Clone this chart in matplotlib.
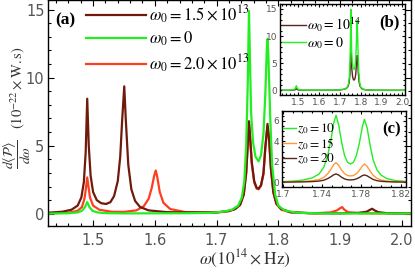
import matplotlib
matplotlib.use("Agg")
import matplotlib.pyplot as plt
from matplotlib.ticker import MultipleLocator

plt.rcParams["mathtext.fontset"] = "stix"

# --- main panel (a): omega_0 = 1.5e13 (brown) ---
w_brown = [1.427, 1.45, 1.465, 1.475, 1.481, 1.485, 1.488, 1.4905, 1.493, 1.496, 1.50, 1.506,
           1.513, 1.521, 1.528, 1.534, 1.540, 1.544, 1.547, 1.5505, 1.553, 1.557, 1.562, 1.568,
           1.576, 1.59, 1.62, 1.66, 1.70, 1.72, 1.73, 1.738, 1.744, 1.748, 1.751, 1.7525, 1.754,
           1.757, 1.761, 1.765, 1.768, 1.772, 1.776, 1.779, 1.7825, 1.785, 1.788, 1.792, 1.797,
           1.805, 1.82, 1.85, 1.90, 1.93, 1.943, 1.948, 1.952, 1.956, 1.962, 1.975, 2.015]
p_brown = [0.08, 0.15, 0.3, 0.6, 1.2, 2.3, 4.5, 8.45, 5.0, 2.8, 1.6, 1.0,
           0.78, 0.72, 0.85, 1.3, 2.4, 4.2, 6.8, 9.36, 6.9, 3.6, 1.8, 0.95,
           0.5, 0.25, 0.12, 0.1, 0.1, 0.2, 0.35, 0.65, 1.4, 3.0, 5.5, 6.8, 5.9,
           3.8, 2.4, 1.9, 1.85, 2.1, 3.0, 4.9, 6.6, 5.6, 3.4, 1.6, 0.75,
           0.35, 0.12, 0.04, 0.03, 0.07, 0.15, 0.28, 0.37, 0.25, 0.12, 0.05, 0.02]

# omega_0 = 0 (green)
w_green = [1.427, 1.46, 1.475, 1.482, 1.487, 1.4905, 1.494, 1.499, 1.507, 1.52, 1.55, 1.65,
           1.69, 1.71, 1.725, 1.735, 1.741, 1.745, 1.748, 1.7505, 1.7525, 1.7545, 1.756,
           1.759, 1.763, 1.768, 1.772, 1.776, 1.779, 1.7815, 1.7827, 1.784, 1.787, 1.790,
           1.795, 1.80, 1.81, 1.83, 1.87, 2.015]
p_green = [0.02, 0.04, 0.1, 0.22, 0.5, 0.86, 0.5, 0.22, 0.1, 0.05, 0.03, 0.04,
           0.07, 0.15, 0.3, 0.6, 1.2, 2.4, 5.0, 9.5, 14.9, 10.5, 7.4,
           5.3, 4.2, 3.85, 4.3, 5.9, 8.8, 12.2, 12.85, 11.5, 7.0, 3.6,
           1.4, 0.6, 0.25, 0.08, 0.03, 0.02]

# omega_0 = 2.0e13 (red)
w_red = [1.427, 1.46, 1.475, 1.482, 1.486, 1.4885, 1.4905, 1.4925, 1.495, 1.50, 1.51, 1.53,
         1.55, 1.57, 1.582, 1.59, 1.595, 1.599, 1.6015, 1.604, 1.608, 1.614, 1.625, 1.65,
         1.70, 1.72, 1.73, 1.738, 1.744, 1.748, 1.751, 1.7525, 1.754, 1.757, 1.761, 1.765,
         1.768, 1.772, 1.776, 1.779, 1.7825, 1.785, 1.788, 1.792, 1.797, 1.805, 1.82, 1.86,
         1.885, 1.895, 1.9005, 1.9035, 1.907, 1.913, 1.93, 2.015]
p_red = [0.03, 0.08, 0.22, 0.5, 1.1, 1.9, 2.67, 2.0, 1.2, 0.6, 0.3, 0.15,
         0.14, 0.25, 0.55, 1.1, 1.9, 2.8, 3.18, 2.7, 1.6, 0.8, 0.35, 0.12,
         0.1, 0.2, 0.35, 0.65, 1.4, 3.0, 5.4, 6.6, 5.8, 3.7, 2.3, 1.85,
         1.8, 2.05, 2.9, 4.8, 6.4, 5.5, 3.3, 1.55, 0.7, 0.3, 0.1, 0.04,
         0.1, 0.25, 0.42, 0.49, 0.3, 0.12, 0.04, 0.02]

# --- inset (b): omega_0 = 1e14 (brown), green as above ---
w_b = [1.42, 1.47, 1.482, 1.487, 1.4905, 1.494, 1.50, 1.52, 1.65, 1.70, 1.72, 1.73, 1.738,
       1.744, 1.748, 1.751, 1.7525, 1.754, 1.757, 1.761, 1.765, 1.768, 1.772, 1.776, 1.779,
       1.7825, 1.785, 1.788, 1.792, 1.797, 1.805, 1.82, 1.87, 2.01]
p_b = [0.01, 0.03, 0.08, 0.18, 0.3, 0.18, 0.07, 0.03, 0.03, 0.08, 0.2, 0.35, 0.65,
       1.4, 3.0, 5.6, 6.9, 6.0, 3.9, 2.45, 1.95, 1.9, 2.15, 3.0, 4.8,
       6.4, 5.5, 3.3, 1.55, 0.7, 0.3, 0.1, 0.03, 0.01]

# --- inset (c): z_0 = 10, 15, 20 ---
w_c = [1.699, 1.71, 1.72, 1.73, 1.737, 1.742, 1.746, 1.749, 1.752, 1.7543, 1.757, 1.760,
       1.763, 1.766, 1.769, 1.772, 1.775, 1.778, 1.781, 1.7832, 1.786, 1.789, 1.792, 1.796,
       1.80, 1.806, 1.815, 1.826]
p_z10 = [0.05, 0.1, 0.2, 0.42, 0.8, 1.5, 2.7, 4.1, 5.8, 6.55, 5.6, 3.9,
         2.6, 1.95, 1.78, 1.95, 2.6, 3.8, 5.4, 6.16, 5.3, 3.6, 2.2, 1.2,
         0.7, 0.35, 0.15, 0.08]
p_z15 = [0.02, 0.04, 0.07, 0.14, 0.26, 0.48, 0.85, 1.25, 1.72, 1.91, 1.65, 1.18,
         0.83, 0.66, 0.61, 0.66, 0.83, 1.15, 1.58, 1.78, 1.55, 1.08, 0.68, 0.38,
         0.22, 0.11, 0.05, 0.03]
p_z20 = [0.01, 0.02, 0.03, 0.06, 0.11, 0.2, 0.36, 0.53, 0.73, 0.81, 0.7, 0.48,
         0.32, 0.24, 0.22, 0.24, 0.32, 0.46, 0.64, 0.71, 0.62, 0.44, 0.27, 0.15,
         0.09, 0.05, 0.02, 0.01]

BROWN = "#701a0c"
RED = "#ff3d1f"
GREEN = "#22ee22"
ORANGE = "#ff9a3a"
DBROWN = "#5a2418"
TICK_C = "#555555"
LABEL_C = "#333333"


def style_ticks(ax, size, major, minor):
    ax.tick_params(which="both", direction="in", top=True, right=True,
                   labelcolor=TICK_C, labelsize=size, width=0.8)
    ax.tick_params(which="major", length=major)
    ax.tick_params(which="minor", length=minor)
    for s in ax.spines.values():
        s.set_linewidth(1.0)


fig = plt.figure(figsize=(4.15, 2.74), dpi=100)
ax = fig.add_axes([0.1157, 0.175, 0.8747, 0.825])

ax.plot(w_red, p_red, color=RED, lw=1.6, label=r"$\omega_0 = 2.0\times10^{13}$")
ax.plot(w_brown, p_brown, color=BROWN, lw=1.6, label=r"$\omega_0 = 1.5\times10^{13}$")
ax.plot(w_green, p_green, color=GREEN, lw=1.6, label=r"$\omega_0 = 0$")
ax.set_xlim(1.427, 2.015)
ax.set_ylim(-0.9, 15.7)
ax.xaxis.set_major_locator(MultipleLocator(0.1))
ax.xaxis.set_minor_locator(MultipleLocator(0.02))
ax.yaxis.set_major_locator(MultipleLocator(5))
ax.yaxis.set_minor_locator(MultipleLocator(1))
ax.xaxis.set_major_formatter(lambda v, p: f"{v:.1f}")
style_ticks(ax, 10.5, 4, 2)
ax.tick_params(axis="x", pad=5)
ax.tick_params(axis="y", pad=2.5)
ax.set_xlabel(r"$\omega(10^{14}\times\mathrm{Hz})$", fontsize=12.5, color=LABEL_C)
ax.xaxis.set_label_coords(0.543, -0.097)

# y label in two pieces: the fraction and the units beside it
fig.text(17.5 / 415, 1 - 154 / 274, r"$\dfrac{d\langle\mathcal{P}\rangle}{d\omega}$",
         rotation=90, ha="center", va="center", fontsize=10, color=LABEL_C)
fig.text(17.5 / 415, 1 - 88 / 274, r"$(10^{-22}\times\mathrm{W.s})$",
         rotation=90, ha="center", va="center", fontsize=10.5, color=LABEL_C)

h, l = ax.get_legend_handles_labels()
order = [1, 2, 0]
ax.legend([h[i] for i in order], [l[i] for i in order], loc="upper left",
          bbox_to_anchor=(0.105, 0.985), frameon=False, fontsize=12, handlelength=3.6,
          handletextpad=0.15, labelspacing=0.25, borderpad=0, borderaxespad=0)
ax.text(0.02, 0.91, "(a)", transform=ax.transAxes, fontsize=12.5, fontweight="bold",
        family="Liberation Serif", ha="left", va="center")

# inset (b)
axb = fig.add_axes([0.6747, 0.6533, 0.3, 0.332])
axb.plot(w_b, p_b, color=DBROWN, lw=1.0, label=r"$\omega_0 = 10^{14}$")
axb.plot(w_green, p_green, color=GREEN, lw=1.0, label=r"$\omega_0 = 0$")
axb.set_xlim(1.412, 2.01)
axb.set_ylim(-0.85, 15.9)
axb.xaxis.set_major_locator(MultipleLocator(0.1))
axb.xaxis.set_minor_locator(MultipleLocator(0.02))
axb.yaxis.set_major_locator(MultipleLocator(5))
axb.yaxis.set_minor_locator(MultipleLocator(1))
axb.xaxis.set_major_formatter(lambda v, p: f"{v:.1f}")
style_ticks(axb, 6.5, 2.5, 1.2)
axb.tick_params(pad=2)
axb.legend(loc="upper left", bbox_to_anchor=(0.02, 0.87), frameon=False, fontsize=10,
           handlelength=1.7, handletextpad=0.05, labelspacing=0.05, borderpad=0,
           borderaxespad=0)
axb.text(0.88, 0.8, "(b)", transform=axb.transAxes, fontsize=12, fontweight="bold",
         family="Liberation Serif", ha="center", va="center")

# inset (c)
axc = fig.add_axes([0.6788, 0.3164, 0.3007, 0.2796])
axc.plot(w_c, p_z10, color=GREEN, lw=1.0, label=r"$z_0 = 10$")
axc.plot(w_c, p_z15, color=ORANGE, lw=1.0, label=r"$z_0 = 15$")
axc.plot(w_c, p_z20, color=DBROWN, lw=1.0, label=r"$z_0 = 20$")
axc.set_xlim(1.699, 1.826)
axc.set_ylim(-0.5, 7.0)
axc.set_xticks([1.70, 1.74, 1.78, 1.82])
axc.set_xticklabels(["1.7", "1.74", "1.78", "1.82"])
axc.xaxis.set_minor_locator(MultipleLocator(0.01))
axc.yaxis.set_major_locator(MultipleLocator(2))
axc.yaxis.set_minor_locator(MultipleLocator(0.5))
style_ticks(axc, 6.5, 2.5, 1.2)
axc.tick_params(pad=2)
axc.legend(loc="upper left", bbox_to_anchor=(0.01, 0.86), frameon=False, fontsize=9.5,
           handlelength=1.0, handletextpad=0.05, labelspacing=0.0, borderpad=0,
           borderaxespad=0)
axc.text(0.88, 0.75, "(c)", transform=axc.transAxes, fontsize=12, fontweight="bold",
         family="Liberation Serif", ha="center", va="center")

fig.savefig("out.png", dpi=100)
